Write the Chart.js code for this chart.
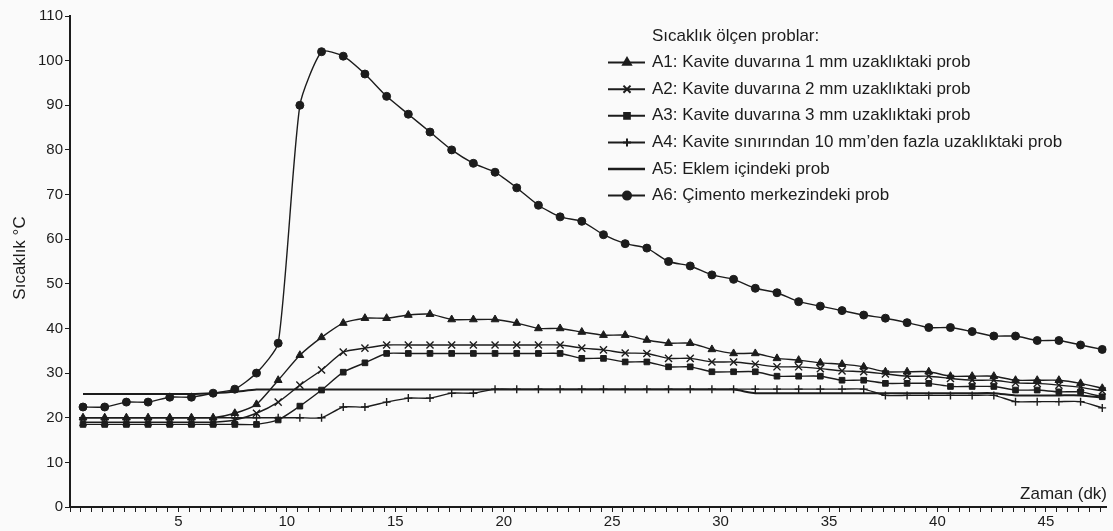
<!DOCTYPE html>
<html>
<head>
<meta charset="utf-8">
<script src="https://cdn.jsdelivr.net/npm/chart.js@4/dist/chart.umd.min.js"></script>
<style>
  html, body { margin: 0; padding: 0; background: #fafafa; }
  #wrap { width: 1113px; height: 531px; }
</style>
</head>
<body>
<div id="wrap"><canvas id="chart" width="1113" height="531"></canvas></div>
<script>
// zaman (dk)
const zaman = [0.6, 1.6, 2.6, 3.6, 4.6, 5.6, 6.6, 7.6, 8.6, 9.6, 10.6, 11.6, 12.6, 13.6, 14.6, 15.6,
  16.6, 17.6, 18.6, 19.6, 20.6, 21.6, 22.6, 23.6, 24.6, 25.6, 26.6, 27.6, 28.6, 29.6, 30.6, 31.6,
  32.6, 33.6, 34.6, 35.6, 36.6, 37.6, 38.6, 39.6, 40.6, 41.6, 42.6, 43.6, 44.6, 45.6, 46.6, 47.6];

const a1 = [20, 20, 20, 20, 20, 20, 20, 21, 23, 28.4, 34, 38, 41.2, 42.3, 42.3, 43, 43.2, 42, 42, 42,
  41.2, 40, 40, 39.2, 38.5, 38.5, 37.4, 36.7, 36.7, 35.3, 34.4, 34.4, 33.3, 32.9, 32.3, 32, 31.4,
  30.3, 30.3, 30.3, 29.3, 29.3, 29.3, 28.4, 28.4, 28.4, 27.7, 26.6];
const a2 = [19, 19, 19, 19, 19, 19, 19, 19.5, 21, 23.5, 27.3, 30.7, 34.7, 35.6, 36.3, 36.3, 36.3, 36.3,
  36.3, 36.3, 36.3, 36.3, 36.3, 35.6, 35.2, 34.5, 34.4, 33.3, 33.3, 32.5, 32.5, 32, 31.4, 31.4, 31,
  30.5, 30.3, 29.8, 29.3, 29.3, 28.8, 28.4, 28.4, 27.8, 27.7, 27.3, 26.8, 26];
const a3 = [18.5, 18.5, 18.5, 18.5, 18.5, 18.5, 18.5, 18.5, 18.5, 19.5, 22.6, 26.2, 30.2, 32.3, 34.4,
  34.4, 34.4, 34.4, 34.4, 34.4, 34.4, 34.4, 34.4, 33.3, 33.3, 32.5, 32.5, 31.4, 31.4, 30.3, 30.3,
  30.3, 29.3, 29.3, 29.3, 28.4, 28.4, 27.7, 27.7, 27.7, 27, 27, 27, 26.2, 26.2, 25.8, 25.8, 24.7];
const a4 = [20, 20, 20, 20, 20, 20, 20, 20, 20, 20, 20, 20, 22.4, 22.4, 23.5, 24.4, 24.4, 25.5, 25.5,
  26.4, 26.4, 26.4, 26.4, 26.4, 26.4, 26.4, 26.4, 26.4, 26.4, 26.4, 26.4, 26.4, 26.4, 26.4, 26.4,
  26.4, 26.4, 25, 25, 25, 25, 25, 25, 23.6, 23.6, 23.6, 23.6, 22.2];
const a5 = [25.3, 25.3, 25.3, 25.3, 25.3, 25.3, 25.5, 25.8, 26.3, 26.3, 26.3, 26.3, 26.3, 26.3, 26.3,
  26.3, 26.3, 26.3, 26.3, 26.3, 26.3, 26.3, 26.3, 26.3, 26.3, 26.3, 26.3, 26.3, 26.3, 26.3, 26.3,
  25.5, 25.5, 25.5, 25.5, 25.5, 25.5, 25.5, 25.5, 25.5, 25.5, 25.5, 25.5, 25, 25, 25, 25, 24.5];
const a6 = [22.4, 22.4, 23.5, 23.5, 24.6, 24.6, 25.5, 26.4, 30, 36.7, 90, 102, 101, 97, 92, 88, 84, 80,
  77, 75, 71.5, 67.6, 65, 64, 61, 59, 58, 55, 54, 52, 51, 49, 48, 46, 45, 44, 43, 42.3, 41.3, 40.2,
  40.2, 39.3, 38.3, 38.3, 37.3, 37.3, 36.3, 35.3];

const seriesNames = [
  "A1: Kavite duvarına 1 mm uzaklıktaki prob",
  "A2: Kavite duvarına 2 mm uzaklıktaki prob",
  "A3: Kavite duvarına 3 mm uzaklıktaki prob",
  "A4: Kavite sınırından 10 mm’den fazla uzaklıktaki prob",
  "A5: Eklem içindeki prob",
  "A6: Çimento merkezindeki prob"
];
const legendTitle = "Sıcaklık ölçen problar:";
const yTicks = [0, 10, 20, 30, 40, 50, 60, 70, 80, 90, 100, 110];
const xLabels = [5, 10, 15, 20, 25, 30, 35, 40, 45];

const ink = "#1c1c1c";
const FONT = "'Liberation Sans', Arial, sans-serif";

function pts(vals) {
  return vals.map((v, i) => ({ x: zaman[i], y: v }));
}

function ds(label, vals, style, radius) {
  return {
    label: label,
    data: pts(vals),
    borderColor: ink,
    backgroundColor: ink,
    borderWidth: 1.4,
    pointStyle: style,
    pointRadius: radius,
    pointBorderWidth: style === "cross" || style === "crossRot" ? 1.4 : 1,
    pointBorderColor: ink,
    pointBackgroundColor: ink,
    tension: 0.2,
    fill: false
  };
}

const datasets = [
  ds(seriesNames[0], a1, "triangle", 4.5),
  ds(seriesNames[1], a2, "crossRot", 5),
  ds(seriesNames[2], a3, "rect", 4),
  ds(seriesNames[3], a4, "cross", 4),
  ds(seriesNames[4], a5, "circle", 0),
  ds(seriesNames[5], a6, "circle", 4)
];
datasets[4].borderWidth = 2;

// legend in the upper right, drawn by hand
const legendBox = {
  id: "legendBox",
  afterDraw(chart) {
    const c = chart.ctx;
    const tx = 652, ty = 36, gap = 26.6;
    c.save();
    c.font = "17px " + FONT;
    c.fillStyle = ink;
    c.textBaseline = "middle";
    c.textAlign = "left";
    c.fillText(legendTitle, tx, ty);
    chart.data.datasets.forEach((d, k) => {
      const y = ty + gap * (k + 1);
      c.strokeStyle = ink;
      c.lineWidth = d.borderWidth + 0.6;
      c.beginPath();
      c.moveTo(608, y);
      c.lineTo(645, y);
      c.stroke();
      if (d.pointRadius > 0) {
        Chart.helpers.drawPoint(c, {
          pointStyle: d.pointStyle,
          radius: d.pointRadius,
          rotation: 0,
          borderWidth: d.pointBorderWidth
        }, 627, y);
      }
      c.fillStyle = ink;
      c.fillText(d.label, tx, y);
    });
    // axis titles
    c.textAlign = "right";
    c.textBaseline = "alphabetic";
    c.fillText("Zaman (dk)", 1107, 499);
    c.translate(20, 258);
    c.rotate(-Math.PI / 2);
    c.textAlign = "center";
    c.textBaseline = "middle";
    c.fillText("Sıcaklık °C", 0, 0);
    c.restore();
  }
};

new Chart(document.getElementById("chart"), {
  type: "line",
  data: { datasets: datasets },
  options: {
    responsive: false,
    animation: false,
    devicePixelRatio: 1,
    layout: { padding: { top: 16, right: 1, left: 0, bottom: 0 } },
    plugins: { legend: { display: false }, tooltip: { enabled: false } },
    scales: {
      x: {
        type: "linear",
        min: 0,
        max: 47.8,
        afterFit(s) { s.height = 24; },
        border: { display: true, color: ink, width: 2 },
        grid: { drawOnChartArea: false, drawTicks: true, tickLength: 5, color: ink, lineWidth: 1 },
        ticks: {
          stepSize: 0.5,
          includeBounds: false,
          autoSkip: false,
          maxRotation: 0,
          padding: 1,
          color: ink,
          font: { family: FONT, size: 15 },
          callback: v => (xLabels.includes(v) ? String(v) : "")
        }
      },
      y: {
        min: yTicks[0],
        max: yTicks[yTicks.length - 1],
        afterFit(s) { s.width = 70; },
        border: { display: true, color: ink, width: 2 },
        grid: { drawOnChartArea: false, drawTicks: true, tickLength: 5, color: ink },
        afterBuildTicks(s) { s.ticks = yTicks.map(v => ({ value: v })); },
        ticks: {
          padding: 2,
          color: ink,
          font: { family: FONT, size: 15 }
        }
      }
    }
  },
  plugins: [legendBox]
});
</script>
</body>
</html>
